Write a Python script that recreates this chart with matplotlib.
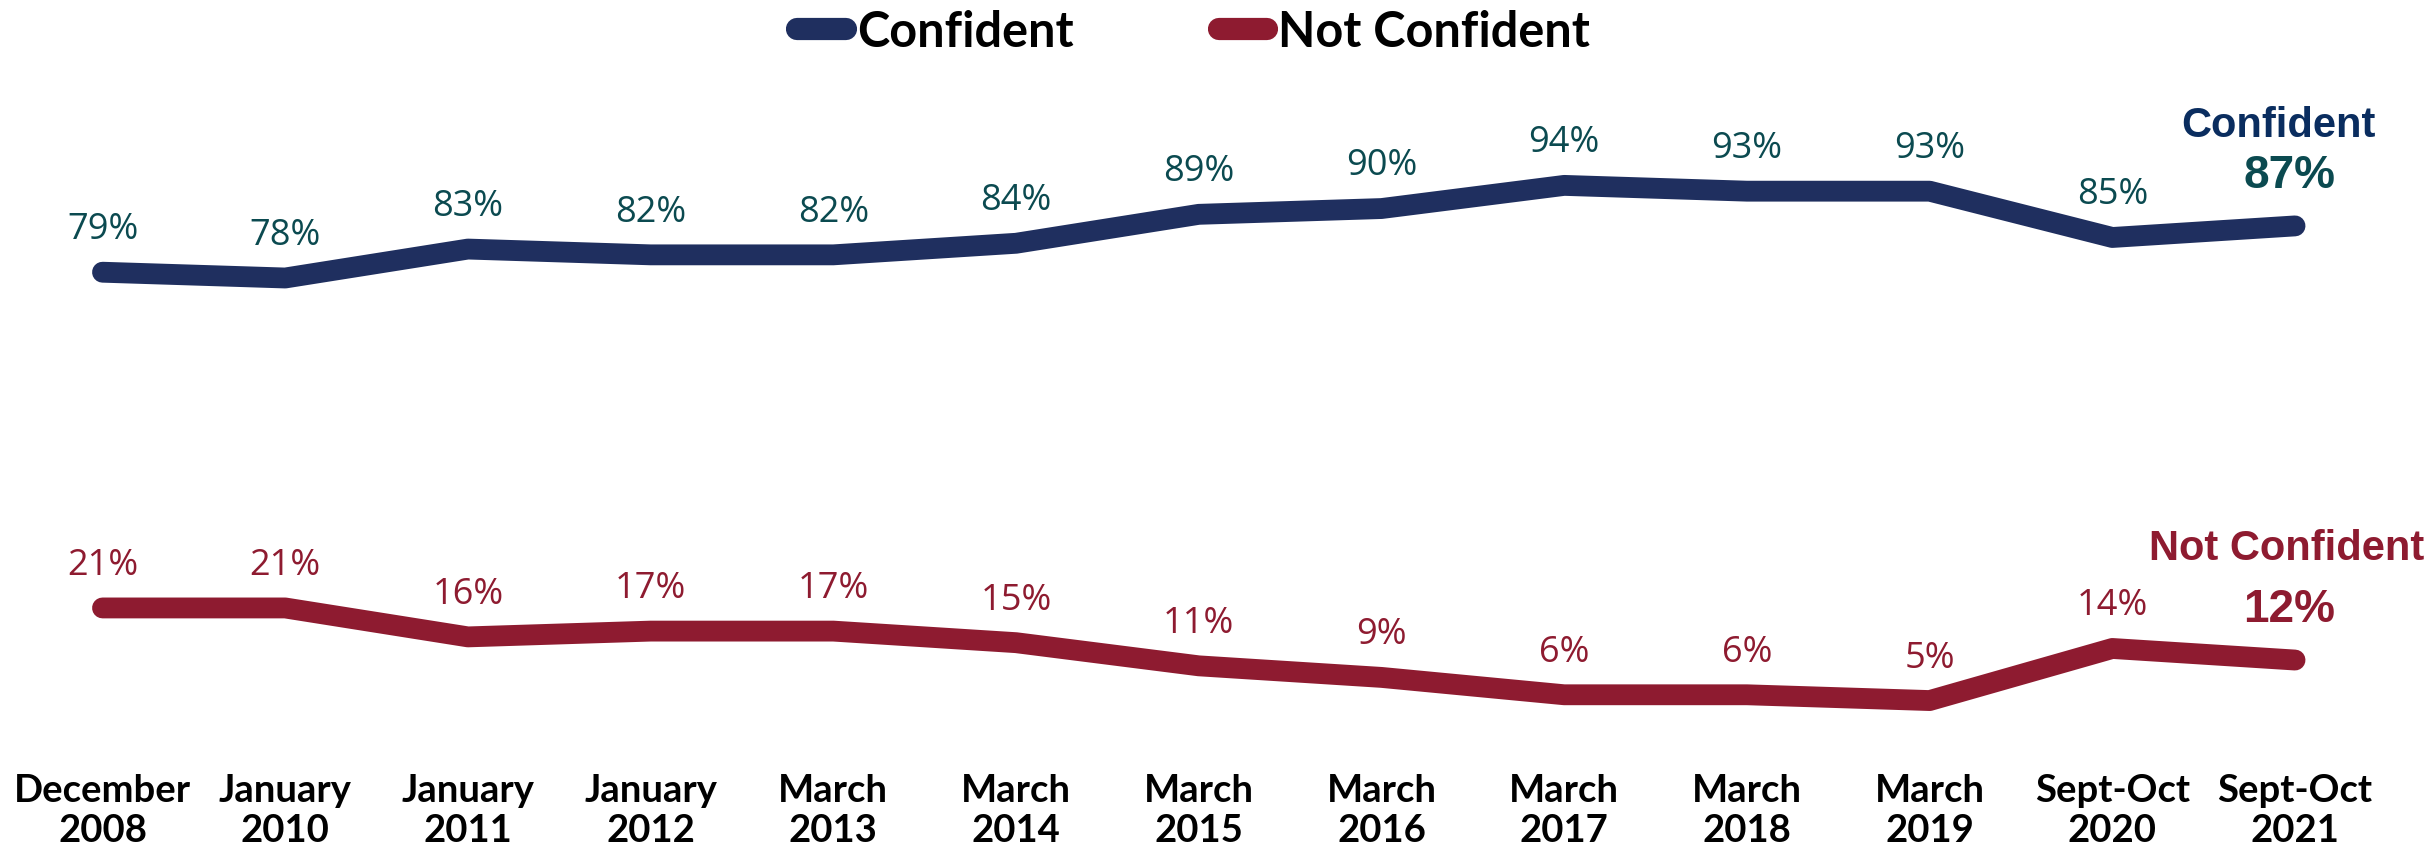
import matplotlib.pyplot as plt

periods = ["December\n2008", "January\n2010", "January\n2011", "January\n2012",
           "March\n2013", "March\n2014", "March\n2015", "March\n2016",
           "March\n2017", "March\n2018", "March\n2019", "Sept-Oct\n2020",
           "Sept-Oct\n2021"]
confident = [79, 78, 83, 82, 82, 84, 89, 90, 94, 93, 93, 85, 87]
not_confident = [21, 21, 16, 17, 17, 15, 11, 9, 6, 6, 5, 14, 12]

navy = "#1f2f5f"
red = "#8e1b30"
teal = "#0b4a50"
title_navy = "#0a2d5f"
narrow = ["Lato", "DejaVu Sans"]

fig = plt.figure(figsize=(24.35, 8.53), dpi=100)
# axes fill the width; bottom margin leaves room for the period labels
ax = fig.add_axes([0, 0.1149, 1, 0.8851])

x = list(range(len(periods)))
ax.plot(x, confident, color=navy, lw=15, solid_capstyle="round",
        solid_joinstyle="round", label="Confident")
ax.plot(x, not_confident, color=red, lw=15, solid_capstyle="round",
        solid_joinstyle="round", label="Not Confident")

# value labels (all but the last point)
for i in x[:-1]:
    ax.annotate(f"{confident[i]}%", (i, confident[i]), xytext=(0, 31),
                textcoords="offset points", ha="center", va="center",
                fontsize=26, color=teal, family="Open Sans")
    ax.annotate(f"{not_confident[i]}%", (i, not_confident[i]), xytext=(0, 31),
                textcoords="offset points", ha="center", va="center",
                fontsize=26, color=red, family="Open Sans")

# end labels
last = x[-1]
ax.annotate("Confident", (last, confident[-1]), xytext=(-12, 73),
            textcoords="offset points", ha="center", va="center",
            fontsize=30, fontweight="bold", color=title_navy,
            family="Liberation Sans")
ax.annotate(f"{confident[-1]}%", (last, confident[-1]), xytext=(-4, 37),
            textcoords="offset points", ha="center", va="center",
            fontsize=33, fontweight="bold", color=teal, family="Liberation Sans")
ax.annotate("Not Confident", (last, not_confident[-1]), xytext=(-6, 81),
            textcoords="offset points", ha="center", va="center",
            fontsize=30, fontweight="bold", color=red, family="Liberation Sans")
ax.annotate(f"{not_confident[-1]}%", (last, not_confident[-1]), xytext=(-4, 37),
            textcoords="offset points", ha="center", va="center",
            fontsize=33, fontweight="bold", color=red, family="Liberation Sans")

ax.set_xlim(-0.561, 12.766)
ax.set_ylim(-4.23, 126.2)
ax.set_yticks([])
ax.set_xticks(x)
ax.set_xticklabels(periods, fontsize=27.5, fontweight="bold", family=narrow,
                   linespacing=1.2)
ax.tick_params(axis="x", length=0, pad=14)
for s in ax.spines.values():
    s.set_visible(False)

leg = fig.legend(loc="center", bbox_to_anchor=(0.4903, 0.962), ncol=2,
                 frameon=False, handlelength=1.0, handletextpad=0.23,
                 columnspacing=2.98,
                 prop={"family": narrow, "weight": "bold", "size": 35})
for h in leg.get_lines():
    h.set_linewidth(16)
    h.set_solid_capstyle("round")

fig.savefig("out.png", dpi=100)
